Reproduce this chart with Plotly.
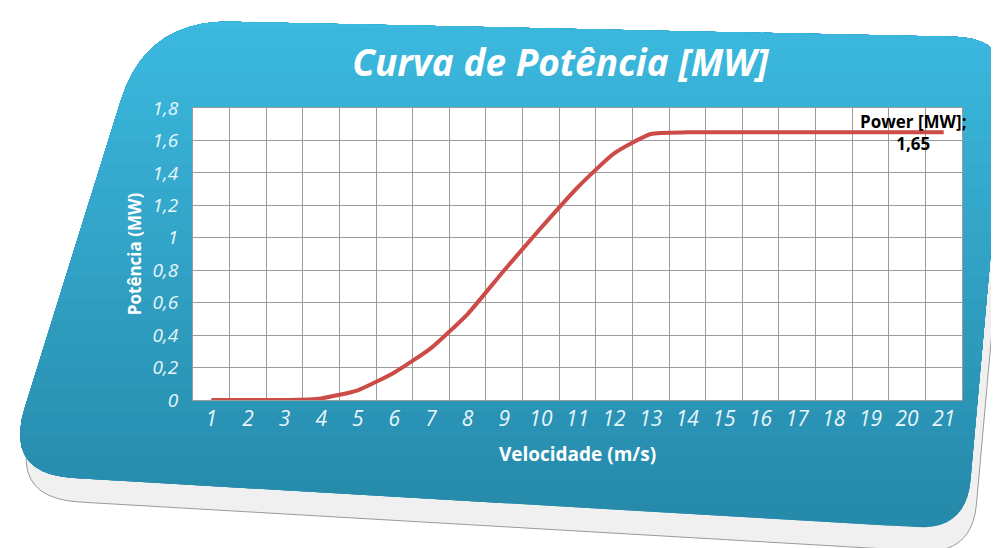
"""Curva de potência de um aerogerador (Plotly)."""

import numpy as np
import plotly.graph_objects as go

# ---- data -----------------------------------------------------------------
velocidade = ["1", "2", "3", "4", "5", "6", "7", "8", "9", "10", "11",
              "12", "13", "14", "15", "16", "17", "18", "19", "20", "21"]
potencia = [0.0, 0.0, 0.0, 0.01, 0.06, 0.17, 0.32, 0.53, 0.80, 1.06, 1.31,
            1.52, 1.64, 1.65, 1.65, 1.65, 1.65, 1.65, 1.65, 1.65, 1.65]
y_ticks = [0, 0.2, 0.4, 0.6, 0.8, 1.0, 1.2, 1.4, 1.6, 1.8]
serie = "Power [MW]"

W, H = 999, 548
ML, MR, MT, MB = 185, 45, 100, 156

# ---- card background (decoration) -----------------------------------------
card_corners = [(138, 12), (1002, 30), (958, 522), (-4, 466)]
card_radii = [85, 55, 50, 70]


def rounded_polygon(corners, radii, steps=12):
    pts = []
    n = len(corners)
    for i, r in enumerate(radii):
        p = np.array(corners[i], float)
        prev = np.array(corners[i - 1], float)
        nxt = np.array(corners[(i + 1) % n], float)
        a = p + r * (prev - p) / np.linalg.norm(prev - p)
        c = p + r * (nxt - p) / np.linalg.norm(nxt - p)
        for t in np.linspace(0, 1, steps):
            pts.append((1 - t) ** 2 * a + 2 * (1 - t) * t * p + t ** 2 * c)
    return pts


def clip_above(pts, cut):
    """Keep the part of the polygon with pixel y <= cut."""
    out = []
    for i in range(len(pts)):
        p, q = pts[i - 1], pts[i]
        pin, qin = p[1] <= cut, q[1] <= cut
        if pin != qin:
            t = (cut - p[1]) / (q[1] - p[1])
            out.append(p + t * (q - p))
        if qin:
            out.append(q)
    return out


def to_path(pts):
    pw, ph = W - ML - MR, H - MT - MB
    coords = [((x - ML) / pw, (H - MB - y) / ph) for x, y in pts]
    return "M" + " L".join(f"{x:.4f},{y:.4f}" for x, y in coords) + " Z"


card = rounded_polygon(card_corners, card_radii)
slab = [p + np.array([6.0, 24.0]) for p in card]

shapes = [
    dict(type="path", path=to_path(slab), xref="paper", yref="paper",
         fillcolor="#f0f0f0", line=dict(color="#9a9a9a", width=1), layer="below"),
]

top_rgb = np.array([60, 186, 224])
bot_rgb = np.array([38, 136, 168])
n_bands = 24
cuts = np.linspace(540, 20, n_bands)
for k, cut in enumerate(cuts):
    frac = k / (n_bands - 1)
    rgb = (bot_rgb + (top_rgb - bot_rgb) * frac).astype(int)
    band = clip_above(card, cut)
    if len(band) < 3:
        continue
    shapes.append(dict(type="path", path=to_path(band), xref="paper", yref="paper",
                       fillcolor=f"rgb({rgb[0]},{rgb[1]},{rgb[2]})",
                       line=dict(width=0), layer="below"))

# white plot area on top of the card
shapes.append(dict(type="rect", xref="x domain", yref="y domain",
                   x0=0, x1=1, y0=0, y1=1, fillcolor="white",
                   line=dict(width=0), layer="below"))

# ---- figure ---------------------------------------------------------------
fig = go.Figure()
fig.add_trace(
    go.Scatter(
        x=velocidade,
        y=potencia,
        mode="lines",
        name=serie,
        line=dict(color="#cd4b47", width=4, shape="spline", smoothing=0.5),
    )
)

# data label on the last point (category axis -> use the index)
fig.add_annotation(
    x=len(velocidade) - 1,
    y=potencia[-1],
    text=f"{serie};<br>{potencia[-1]:.2f}".replace(".", ","),
    showarrow=False,
    xanchor="center",
    yanchor="middle",
    xshift=-30,
    font=dict(family="Open Sans", size=17, color="black", weight="bold"),
)

fig.update_layout(
    width=W,
    height=H,
    margin=dict(l=ML, r=MR, t=MT, b=MB),
    paper_bgcolor="white",
    plot_bgcolor="white",
    separators=", ",
    showlegend=False,
    shapes=shapes,
    title=dict(
        text="Curva de Potência [MW]",
        x=0.553,
        y=0.9,
        xanchor="center",
        yanchor="middle",
        font=dict(family="Open Sans", size=37, color="white",
                  weight="bold", style="italic"),
    ),
    xaxis=dict(
        type="category",
        range=[-0.5, 20.5],
        tickson="boundaries",
        showgrid=True,
        gridcolor="#9c9c9c",
        gridwidth=1,
        showline=True,
        linecolor="#9c9c9c",
        mirror=True,
        ticks="outside",
        ticklen=16,
        tickcolor="rgba(0,0,0,0)",
        tickfont=dict(family="Open Sans", size=21, color="#e6f6fb", style="italic"),
        title=dict(text="Velocidade (m/s)", standoff=16,
                   font=dict(family="Open Sans", size=19, color="white", weight="bold")),
        fixedrange=True,
    ),
    yaxis=dict(
        range=[0, 1.8],
        tickvals=y_ticks,
        showgrid=True,
        gridcolor="#9c9c9c",
        gridwidth=1,
        zeroline=False,
        showline=True,
        linecolor="#9c9c9c",
        mirror=True,
        ticks="outside",
        ticklen=10,
        tickcolor="rgba(0,0,0,0)",
        tickfont=dict(family="Open Sans", size=19, color="#e6f6fb", style="italic"),
        title=dict(text="Potência (MW)", standoff=6,
                   font=dict(family="Open Sans", size=17, color="white", weight="bold")),
        fixedrange=True,
    ),
)

fig.write_html("out.html")
